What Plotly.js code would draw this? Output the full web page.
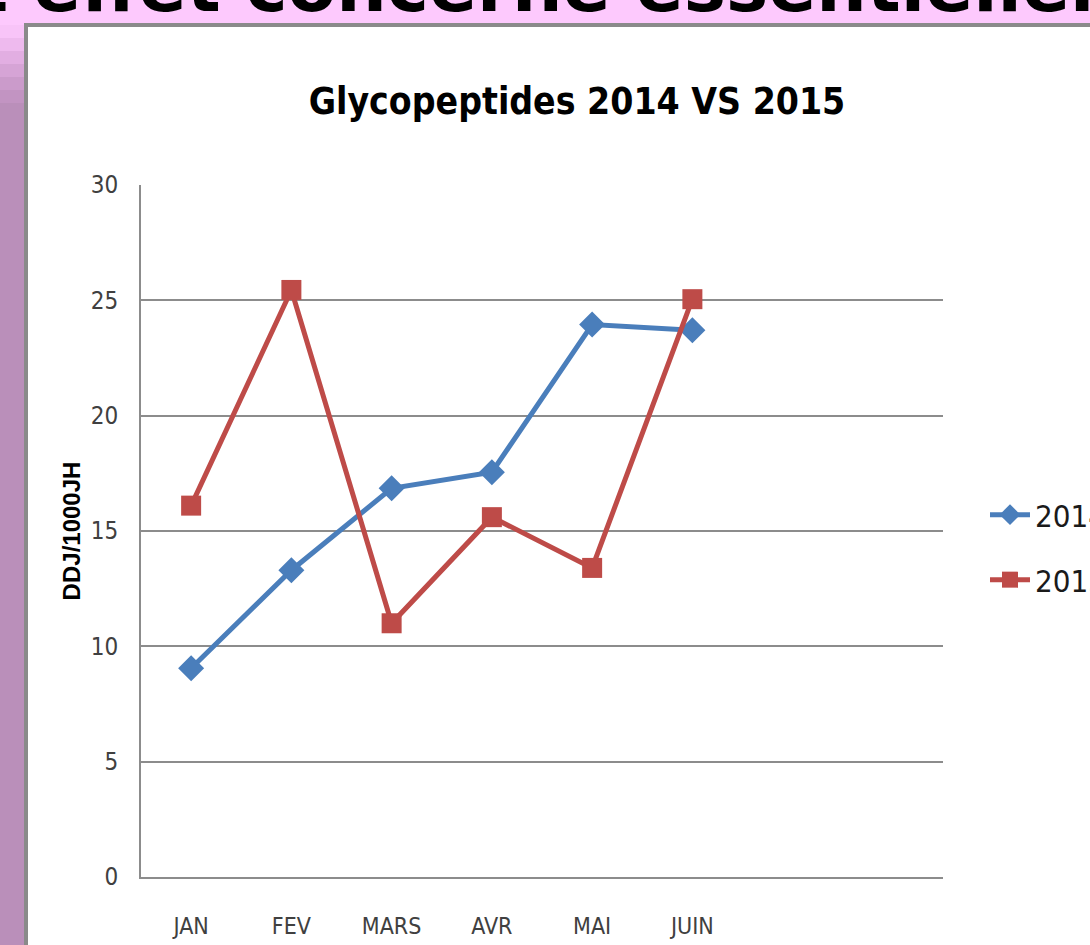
<!DOCTYPE html>
<html>
<head>
<meta charset="utf-8">
<script src="https://cdn.plot.ly/plotly-3.0.1.min.js"></script>
<style>
html,body{margin:0;padding:0;background:#fdc9fd;}
#chart{width:1090px;height:945px;}
</style>
</head>
<body>
<div id="chart"></div>
<script>
var months = ["JAN", "FEV", "MARS", "AVR", "MAI", "JUIN"];
var values2014 = [9.05, 13.3, 16.85, 17.55, 23.95, 23.7];
var values2015 = [16.1, 25.45, 11.0, 15.6, 13.4, 25.05];
var seriesNames = ["2014", "2015"];
var chartTitle = "Glycopeptides 2014 VS 2015";
var yTitle = "DDJ/1000JH";
var slideText = "Cet effet concerne essentiellement";

var condensed = "DejaVu Sans Condensed, Liberation Sans Narrow, sans-serif";

// pixel -> paper helpers (plot area: x 141..943, y 185..877)
function px(x){ return (x - 141) / 802; }
function py(y){ return (877 - y) / 692; }

var traces = [
  {
    x: months, y: values2014, name: seriesNames[0], type: "scatter", mode: "lines+markers",
    line: {color: "#4a7ebb", width: 5},
    marker: {symbol: "diamond", size: 20, color: "#4a7ebb"},
    legend: "legend", showlegend: true
  },
  {
    x: months, y: values2015, name: seriesNames[1], type: "scatter", mode: "lines+markers",
    line: {color: "#be4b48", width: 5},
    marker: {symbol: "square", size: 20, color: "#be4b48"},
    legend: "legend2", showlegend: true
  }
];

var stripeColors = ["#f8c4f8", "#eebaee", "#e2aee2", "#d6a4d6", "#cb9bcb", "#c294c2", "#ba8fba"];
var shapes = [];
// slide shadow and white chart box
shapes.push({type: "rect", xref: "paper", yref: "paper", layer: "below",
  x0: px(24), x1: px(1100), y0: py(960), y1: py(23), fillcolor: "#8a8a8a", line: {width: 0}});
shapes.push({type: "rect", xref: "paper", yref: "paper", layer: "below",
  x0: px(28), x1: px(1100), y0: py(960), y1: py(27), fillcolor: "#ffffff", line: {width: 0}});
// purple stripe on the left
for (var i = 0; i < stripeColors.length; i++) {
  var bandTop = 25 + i * 13;
  var bandBottom = (i === stripeColors.length - 1) ? 960 : bandTop + 13;
  shapes.push({type: "rect", xref: "paper", yref: "paper", layer: "below",
    x0: px(-5), x1: px(24), y0: py(bandBottom), y1: py(bandTop), fillcolor: stripeColors[i], line: {width: 0}});
}

var layout = {
  width: 1090, height: 945,
  paper_bgcolor: "#fdc9fd",
  plot_bgcolor: "#ffffff",
  showlegend: true,
  margin: {l: 141, r: 147, t: 185, b: 68, pad: 0, autoexpand: false},
  title: {
    text: chartTitle,
    x: 577 / 1090, xanchor: "center",
    y: 1 - 101 / 945, yanchor: "middle",
    font: {family: condensed, size: 37, color: "#000000", weight: "bold"}
  },
  xaxis: {
    type: "category",
    range: [-0.5, 7.5],
    showgrid: false,
    showline: true, linecolor: "#8c8c8c", linewidth: 2,
    ticks: "", ticklabelstandoff: 27,
    tickfont: {family: condensed, size: 23, color: "#404040"},
    fixedrange: true
  },
  yaxis: {
    range: [0, 30],
    tickvals: [0, 5, 10, 15, 20, 25, 30],
    showgrid: true, gridcolor: "#8c8c8c", gridwidth: 2,
    showline: true, linecolor: "#8c8c8c", linewidth: 2,
    zeroline: false,
    ticks: "", ticklabelstandoff: 16,
    tickfont: {family: condensed, size: 24, color: "#404040"},
    title: {text: yTitle, standoff: 3,
      font: {family: "Liberation Sans, Arial, sans-serif", size: 24, color: "#000000", weight: "bold"}},
    fixedrange: true
  },
  legend: {
    x: px(985), y: py(515), xanchor: "left", yanchor: "middle",
    bgcolor: "rgba(0,0,0,0)", itemwidth: 40,
    font: {family: condensed, size: 31, color: "#1a1a1a"}
  },
  legend2: {
    x: px(985), y: py(580), xanchor: "left", yanchor: "middle",
    bgcolor: "rgba(0,0,0,0)", itemwidth: 40,
    font: {family: condensed, size: 31, color: "#1a1a1a"}
  },
  shapes: shapes,
  annotations: [{
    text: "<b>" + slideText + "</b>",
    xref: "paper", yref: "paper",
    x: px(-128), y: py(-13), xanchor: "left", yanchor: "middle",
    showarrow: false,
    font: {family: "DejaVu Sans, sans-serif", size: 71, color: "#000000"}
  }]
};

Plotly.newPlot("chart", traces, layout, {displayModeBar: false, staticPlot: true});
</script>
</body>
</html>
